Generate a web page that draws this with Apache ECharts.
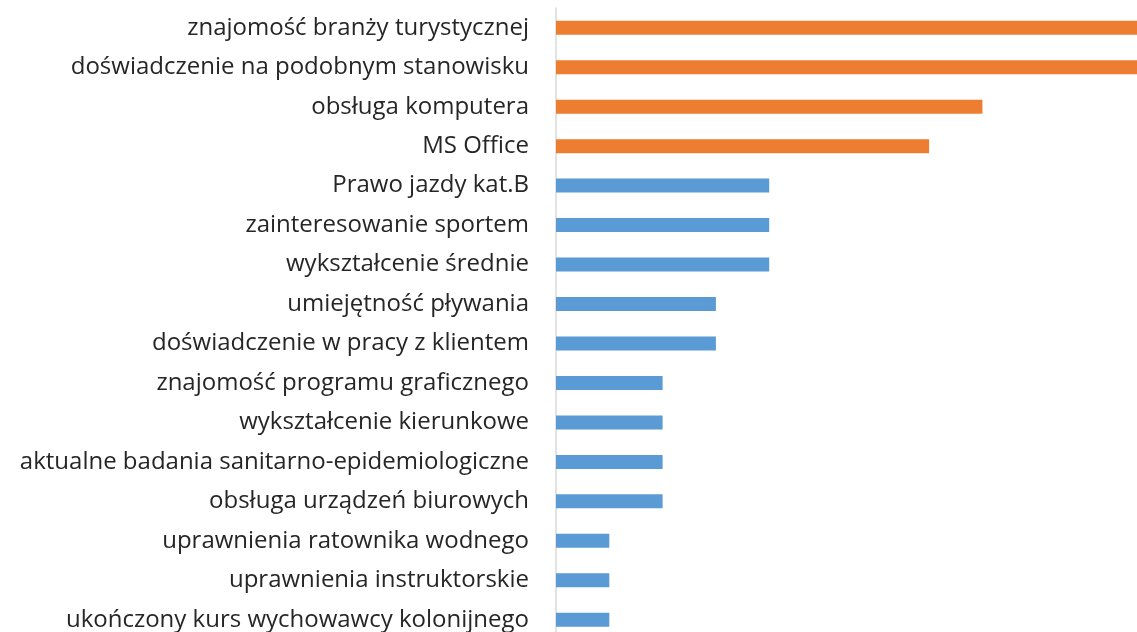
<!DOCTYPE html>
<html>
<head>
<meta charset="utf-8">
<script src="https://cdn.jsdelivr.net/npm/echarts@6/dist/echarts.min.js"></script>
<style>
  html, body { margin: 0; padding: 0; background: #fff; }
  #chart { width: 1137px; height: 632px; }
</style>
</head>
<body>
<div id="chart"></div>
<script>
// kategorie od góry do dołu
const categories = [
    'znajomość branży turystycznej',
    'doświadczenie na podobnym stanowisku',
    'obsługa komputera',
    'MS Office',
    'Prawo jazdy kat.B',
    'zainteresowanie sportem',
    'wykształcenie średnie',
    'umiejętność pływania',
    'doświadczenie w pracy z klientem',
    'znajomość programu graficznego',
    'wykształcenie kierunkowe',
    'aktualne badania sanitarno-epidemiologiczne',
    'obsługa urządzeń biurowych',
    'uprawnienia ratownika wodnego',
    'uprawnienia instruktorskie',
    'ukończony kurs wychowawcy kolonijnego'
];
const values = [11, 11, 8, 7, 4, 4, 4, 3, 3, 2, 2, 2, 2, 1, 1, 1];
// pierwsze 4 wyróżnione na pomarańczowo
const topCount = 4;

const chart = echarts.init(document.getElementById('chart'));
chart.setOption({
    animation: false,
    grid: { left: 556, top: 8, width: 581, height: 631.5, outerBoundsMode: 'none' },
    xAxis: {
        type: 'value',
        min: 0,
        max: 10.9,
        show: false
    },
    yAxis: {
        type: 'category',
        inverse: true,
        data: categories,
        axisLine: { lineStyle: { color: '#d9d9d9', width: 1.5 } },
        axisTick: { show: false },
        axisLabel: {
            margin: 27,
            color: '#262626',
            fontSize: 24,
            fontFamily: 'Open Sans'
        }
    },
    series: [{
        type: 'bar',
        barWidth: 14,
        data: values.map((v, i) => ({
            value: v,
            itemStyle: { color: i < topCount ? '#ed7d31' : '#5b9bd5' }
        }))
    }]
});
</script>
</body>
</html>
